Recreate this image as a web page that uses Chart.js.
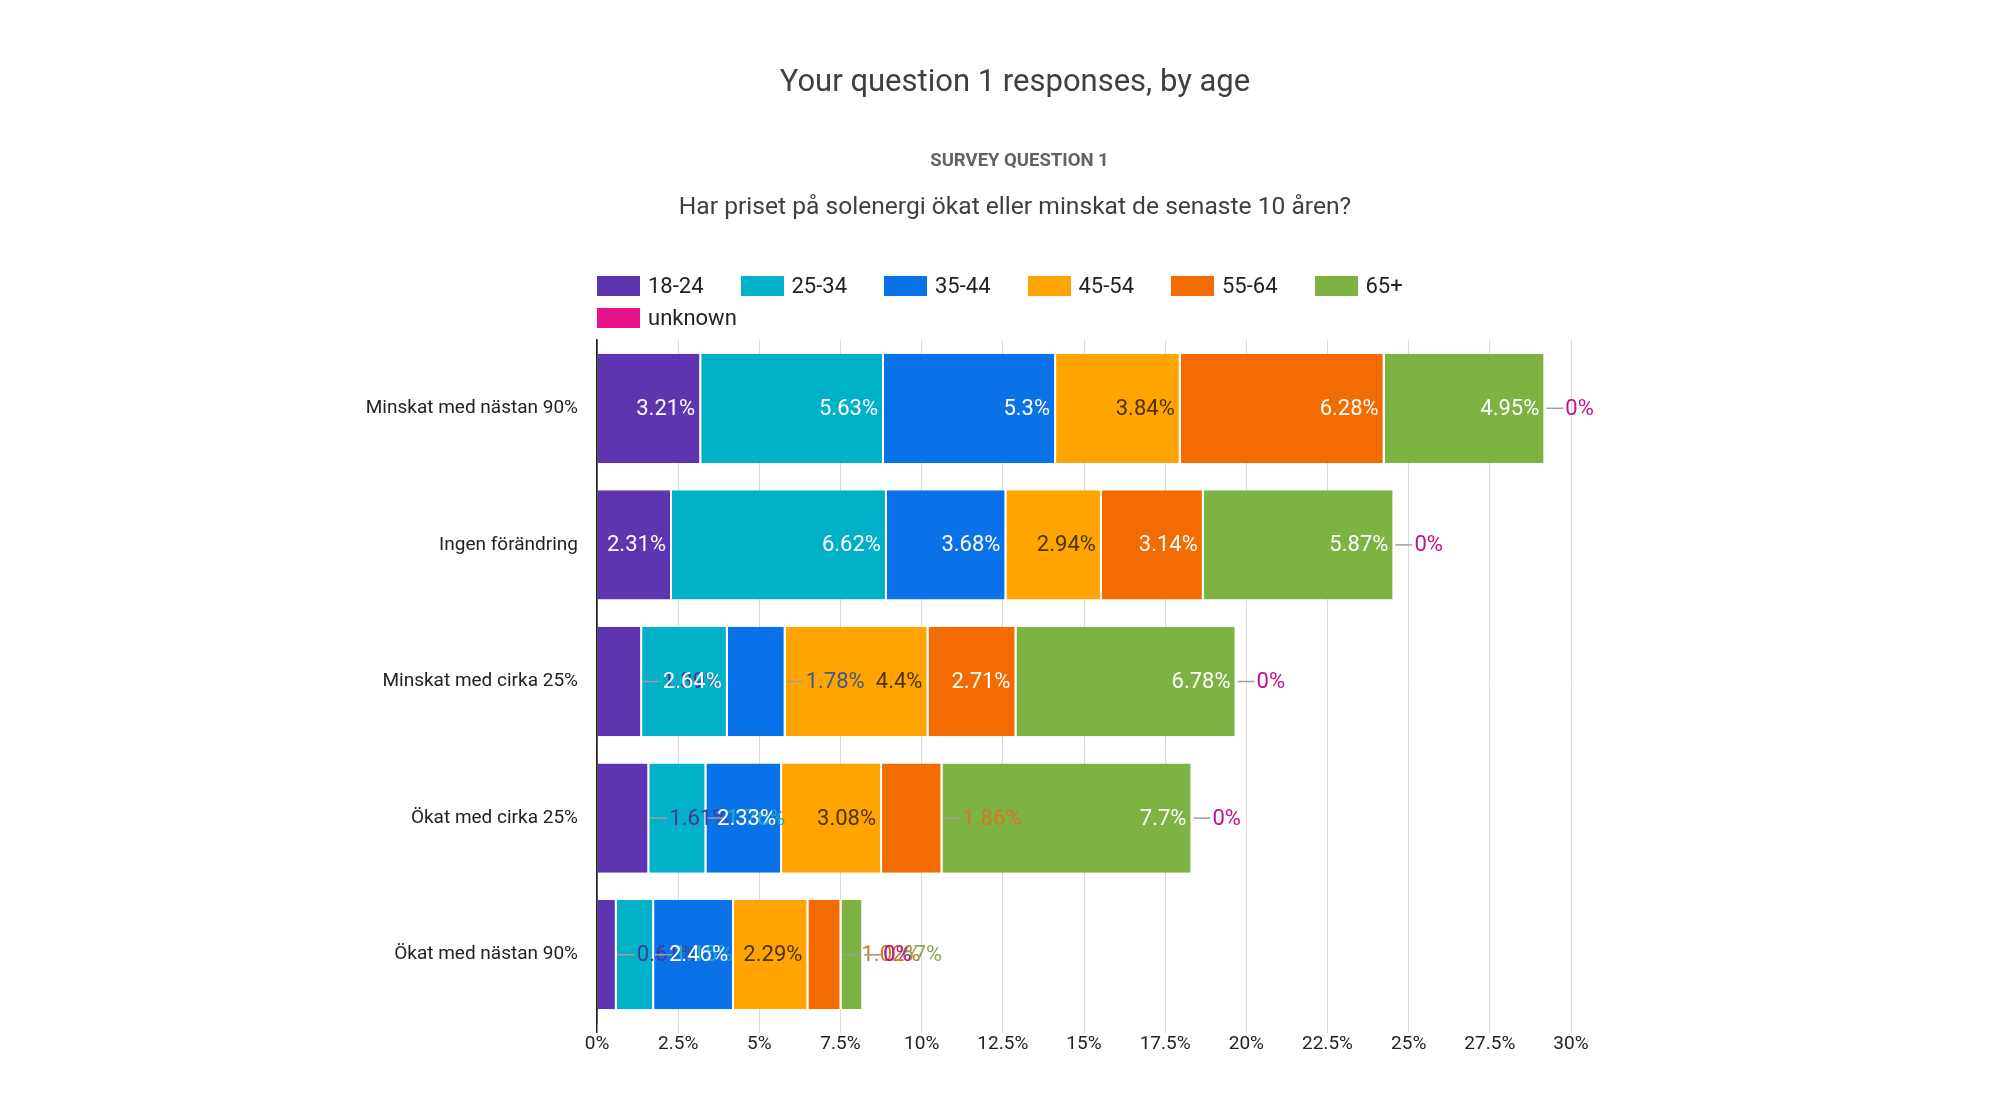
<!DOCTYPE html>
<html><head><meta charset="utf-8">
<script src="https://cdn.jsdelivr.net/npm/chart.js@4.4.0/dist/chart.umd.min.js"></script>
<style>
html,body{margin:0;padding:0;background:#fff;}
#wrap{position:relative;width:2000px;height:1107px;font-family:Roboto, sans-serif;overflow:hidden;}
#c{position:absolute;left:0;top:0;}
.t{position:absolute;left:1015px;transform:translate(-50%,-50%);white-space:nowrap;}
.li{position:absolute;display:flex;align-items:center;font-size:22px;color:#222;height:26px;line-height:26px;white-space:nowrap;}
.sw{width:43px;height:20px;margin-right:8px;display:inline-block;}
</style></head>
<body><div id="wrap">
<canvas id="c" width="2000" height="1107"></canvas>
<div class="t" style="top:80px;font-size:31px;color:#3c4043">Your question 1 responses, by age</div>
<div class="t" style="top:160px;left:1019.5px;font-size:18.5px;font-weight:bold;color:#5f6368">SURVEY QUESTION 1</div>
<div class="t" style="top:205px;font-size:24.6px;color:#3c4043">Har priset på solenergi ökat eller minskat de senaste 10 åren?</div>
<div id="legend"></div>
</div>
<script>
const categories = ['Minskat med nästan 90%','Ingen förändring','Minskat med cirka 25%','Ökat med cirka 25%','Ökat med nästan 90%'];
const seriesNames = ['18-24','25-34','35-44','45-54','55-64','65+','unknown'];
const v18_24 = [3.21, 2.31, 1.39, 1.61, 0.61];
const v25_34 = [5.63, 6.62, 2.64, 1.76, 1.15];
const v35_44 = [5.3, 3.68, 1.78, 2.33, 2.46];
const v45_54 = [3.84, 2.94, 4.4, 3.08, 2.29];
const v55_64 = [6.28, 3.14, 2.71, 1.86, 1.02];
const v65plus = [4.95, 5.87, 6.78, 7.7, 0.67];
const vUnknown = [0, 0, 0, 0, 0];
const xMin = 0, xMax = 30, xStep = 2.5;

const colors = ['#5e35b1','#00b1c8','#0a72e8','#ffa400','#f26c02','#7cb342','#e8138b'];
const insideColors = ['#ffffff','#ffffff','#ffffff','#4d3300','#ffffff','#ffffff','#ffffff'];
const outsideColors = ['#4638a0','#2aa9c6','#3d5c88','#8a5a00','#d07a28','#86a95a','#c2128a'];
const allValues = [v18_24, v25_34, v35_44, v45_54, v55_64, v65plus, vUnknown];

// legend
const leg = document.getElementById('legend');
seriesNames.forEach((n,i)=>{
  const d = document.createElement('div');
  d.className='li';
  const row = i < 6 ? 0 : 1;
  const col = i < 6 ? i : 0;
  d.style.left = (597 + col*143.5) + 'px';
  d.style.top = (row===0 ? 273 : 305) + 'px';
  d.innerHTML = '<span class="sw" style="background:'+colors[i]+'"></span>' + n;
  leg.appendChild(d);
});

const labelPlugin = {
  id:'segLabels',
  afterDatasetsDraw(chart){
    const ctx = chart.ctx;
    ctx.save();
    ctx.font = '22px Roboto';
    ctx.textBaseline = 'middle';
    chart.data.datasets.forEach((ds,di)=>{
      const meta = chart.getDatasetMeta(di);
      meta.data.forEach((el,j)=>{
        const v = ds.data[j];
        const txt = v + '%';
        const w = ctx.measureText(txt).width;
        const left = Math.min(el.base, el.x), right = Math.max(el.base, el.x);
        if (right - left >= w + 10) {
          ctx.fillStyle = insideColors[di];
          ctx.textAlign = 'right';
          ctx.fillText(txt, right - 6, el.y + 1);
        } else {
          ctx.strokeStyle = '#9e9e9e';
          ctx.lineWidth = 1.5;
          ctx.beginPath(); ctx.moveTo(right + 1, el.y); ctx.lineTo(right + 18, el.y); ctx.stroke();
          ctx.fillStyle = outsideColors[di];
          ctx.textAlign = 'left';
          ctx.fillText(txt, right + 20, el.y + 1);
        }
      });
    });
    ctx.restore();
  }
};

new Chart(document.getElementById('c'), {
  type:'bar',
  data:{
    labels: categories,
    datasets: seriesNames.map((n,i)=>({
      label:n,
      data: allValues[i],
      backgroundColor: colors[i],
      borderColor:'#ffffff',
      borderWidth:{left:0,right:2,top:0,bottom:0},
      borderSkipped:false,
      categoryPercentage:1,
      barPercentage:0.8
    }))
  },
  options:{
    indexAxis:'y',
    responsive:false,
    animation:false,
    devicePixelRatio:1,
    layout:{padding:{left:0,right:429,top:340,bottom:0}},
    plugins:{legend:{display:false},tooltip:{enabled:false},title:{display:false}},
    scales:{
      x:{
        stacked:true, min:xMin, max:xMax,
        ticks:{stepSize:xStep, callback:(v)=>v+'%', color:'#222', font:{family:'Roboto',size:19}, padding:0, maxRotation:0, autoSkip:false},
        grid:{color:(c)=> (c.tick && c.tick.value===0) ? '#222' : '#d9d9d9', lineWidth:(c)=>(c.tick && c.tick.value===0)?1.5:1, tickLength:10, drawTicks:true},
        border:{display:false},
        afterFit:(s)=>{s.height = 84;}
      },
      y:{
        stacked:true,
        ticks:{color:'#222', font:{family:'Roboto',size:19}, padding:19},
        grid:{display:false, drawTicks:false},
        border:{display:true, color:'#222', width:1.5},
        afterFit:(s)=>{s.width = 597;}
      }
    }
  },
  plugins:[labelPlugin]
});
</script>
</body></html>
